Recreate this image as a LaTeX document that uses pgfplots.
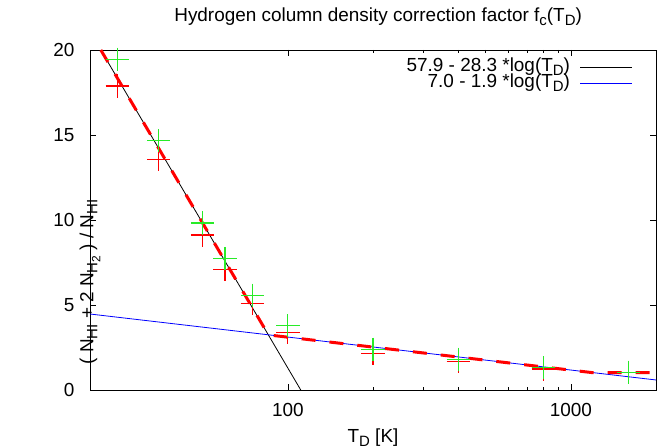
\documentclass[border=0pt]{standalone}
\usepackage{pgfplots}
\pgfplotsset{compat=1.18}
\usepackage{fontspec}
\setmainfont{Liberation Sans}
\definecolor{mygreen}{RGB}{40,235,40}
\newcommand\sub[1]{\raisebox{-4bp}{\fontsize{15}{15}\selectfont #1}}
\newcommand\subsub[1]{\raisebox{-3bp}{\fontsize{12}{12}\selectfont #1}}
\pgfplotstableread{
x y
25 19.45
35 14.67
50 9.82
60 7.73
75 5.57
100 3.78
200 2.39
400 1.80
800 1.31
1600 1.04
}\greendata
\pgfplotstableread{
x y
25 17.88
35 13.55
50 9.12
60 7.10
75 5.10
100 3.37
200 2.16
400 1.67
800 1.24
1600 1.02
}\reddata
\begin{document}
\fontsize{19}{22}\selectfont
\begin{tikzpicture}
\begin{semilogxaxis}[
  at={(0,0)}, anchor=south west,
  scale only axis, width=566bp, height=340bp,
  xmin=20, xmax=2000, ymin=0, ymax=20,
  clip=false,
  ytick={0,5,10,15,20},
  xtick={100,1000}, xticklabels={100,1000},
  /pgf/number format/assume math mode=true,
  axis line style={line width=0.8bp},
  tick style={black, line width=0.6bp},
  major tick length=6bp, minor tick length=3bp,
  tick align=inside,
  ticklabel style={font=\fontsize{19}{22}\selectfont},
  xticklabel style={anchor=base, yshift=-26bp},
  yticklabel style={anchor=east, xshift=-9bp},
  title={Hydrogen column density correction factor f\sub{c}(T\sub{D})},
  title style={at={(0.509,1)}, anchor=base, yshift=23bp, inner sep=0pt},
  xlabel={T\sub{D} [K]},
  xlabel style={at={(axis description cs:0.5,0)}, anchor=base, yshift=-52bp, inner sep=0pt},
  ylabel={( N\sub{HI} + 2 N\sub{H\subsub{2}} ) / N\sub{HI}},
  ylabel style={at={(axis description cs:0,0.5)}, anchor=center, xshift=-62bp, inner sep=0pt},
  legend plot pos=right,
  legend cell align=right,
  legend style={draw=none, fill=none, at={(1,1)}, anchor=north east,
     xshift=-23bp, yshift=-9.5bp, inner sep=0pt, column sep=10bp, row sep=0pt,
     nodes={inner sep=0pt, text height=12bp, text depth=4bp}, font=\fontsize{19}{22}\selectfont},
]
\addplot[forget plot, scatter, only marks, mark=+, mark size=11.7bp,
  scatter/use mapped color={draw=red, line width=1.3bp}] table {\reddata};
\addplot[forget plot, scatter, only marks, mark=+, mark size=11.7bp,
  scatter/use mapped color={draw=mygreen, line width=1.3bp}] table {\greendata};
\addplot[black, line width=0.8bp,
  legend image code/.code={\draw[black, line width=0.8bp] (0bp,0bp) -- (52bp,0bp);}]
  coordinates {(21.84,20) (111.1,0)};
\addlegendentry{57.9 - 28.3 *log(T\sub{D})}
\addplot[blue, line width=0.8bp,
  legend image code/.code={\draw[blue, line width=0.8bp] (0bp,0bp) -- (52bp,0bp);}]
  coordinates {(20,4.47) (2000,0.59)};
\addlegendentry{7.0 - 1.9 *log(T\sub{D})}
\addplot[forget plot, red, line width=3bp, dash pattern=on 14bp off 14bp]
  coordinates {(21.84,20) (85.4,3.24) (1194,1.02) (2000,1.02)};
\end{semilogxaxis}
\pgfresetboundingbox
\path[use as bounding box] (-90bp,-58bp) rectangle (569bp,390bp);
\end{tikzpicture}
\end{document}
